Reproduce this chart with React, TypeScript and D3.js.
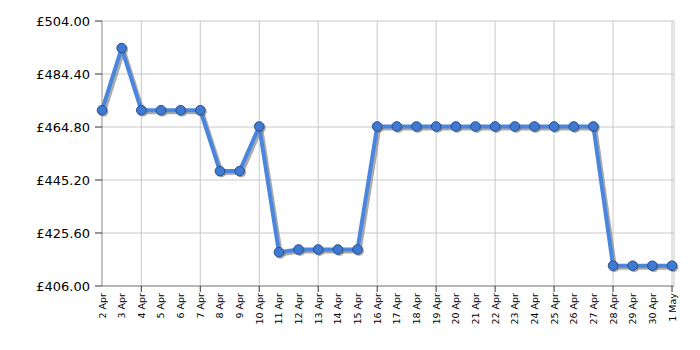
import React from "react";
import * as d3 from "d3";

const dates: string[] = [
  "2 Apr","3 Apr","4 Apr","5 Apr","6 Apr","7 Apr","8 Apr","9 Apr","10 Apr","11 Apr",
  "12 Apr","13 Apr","14 Apr","15 Apr","16 Apr","17 Apr","18 Apr","19 Apr","20 Apr","21 Apr",
  "22 Apr","23 Apr","24 Apr","25 Apr","26 Apr","27 Apr","28 Apr","29 Apr","30 Apr","1 May",
];
const prices: number[] = [
  471, 494, 471, 471, 471, 471, 448.5, 448.5, 465, 418.5,
  419.5, 419.5, 419.5, 419.5, 465, 465, 465, 465, 465, 465,
  465, 465, 465, 465, 465, 465, 413.5, 413.5, 413.5, 413.5,
];
const yTicks: number[] = [406, 425.6, 445.2, 464.8, 484.4, 504];
const gridEvery = 3;

export default function App() {
  const W = 700, H = 350;
  const left = 102, right = 672, top = 21, bottom = 286;
  const x = d3.scalePoint<string>().domain(dates).range([left, right]);
  const y = d3.scaleLinear().domain([406, 504]).range([bottom, top]);
  const line = d3.line<number>().x((_, i) => x(dates[i])!).y((d) => y(d));
  const path = line(prices)!;
  const font = "Verdana, 'DejaVu Sans', sans-serif";
  const gridDates = dates.filter((_, i) => i % gridEvery === 2 || i === dates.length - 1);
  return (
    <svg width={W} height={H} style={{ position: "absolute", left: 0, top: 0 }}>
      <rect x={0} y={0} width={W} height={H} fill="#fff" />
      {yTicks.map((t) => (
        <line key={"gy" + t} x1={left} x2={right + 2} y1={y(t)} y2={y(t)} stroke="#c8c8c8" strokeWidth={1} />
      ))}
      {gridDates.map((d) => (
        <line key={"gx" + d} x1={x(d)} x2={x(d)} y1={top} y2={bottom} stroke="#c8c8c8" strokeWidth={1} />
      ))}
      <line x1={right + 2} x2={right + 2} y1={top} y2={bottom} stroke="#c8c8c8" />
      <line x1={left} x2={left} y1={top} y2={bottom} stroke="#888" strokeWidth={1} />
      <line x1={left} x2={right + 2} y1={bottom} y2={bottom} stroke="#888" strokeWidth={1} />
      {yTicks.map((t) => (
        <g key={"ty" + t}>
          <line x1={left - 7} x2={left} y1={y(t)} y2={y(t)} stroke="#333" />
          <text x={left - 12} y={y(t)} dy="0.35em" textAnchor="end" fontFamily={font} fontSize={13} fill="#000">
            {"£" + t.toFixed(2)}
          </text>
        </g>
      ))}
      {gridDates.map((d) => (
        <line key={"tx" + d} x1={x(d)} x2={x(d)} y1={bottom} y2={bottom + 6} stroke="#333" />
      ))}
      {dates.map((d) => (
        <text
          key={"lx" + d}
          transform={`translate(${x(d)! + 3.5},${bottom + 7}) rotate(-90)`}
          textAnchor="end"
          fontFamily={font}
          fontSize={9.5}
          fill="#000"
        >
          {d}
        </text>
      ))}
      <path d={path} transform="translate(2,2)" fill="none" stroke="#888" strokeOpacity={0.7} strokeWidth={4} strokeLinejoin="round" />
      <path d={path} fill="none" stroke="#4a86de" strokeWidth={4} strokeLinejoin="round" />
      {prices.map((p, i) => (
        <circle key={"s" + i} cx={x(dates[i])! + 1.5} cy={y(p) + 1.5} r={5} fill="#777" fillOpacity={0.6} />
      ))}
      {prices.map((p, i) => (
        <circle key={"c" + i} cx={x(dates[i])!} cy={y(p)} r={4.8} fill="#3f79d1" stroke="#24508f" strokeWidth={1} />
      ))}
    </svg>
  );
}
